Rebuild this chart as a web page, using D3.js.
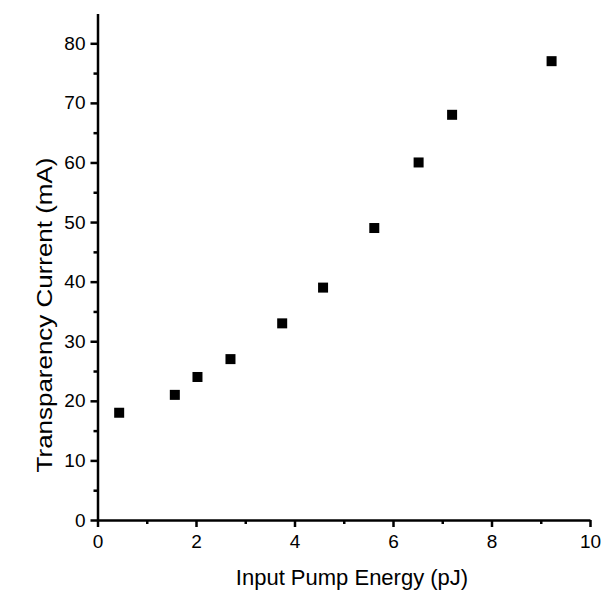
<!DOCTYPE html>
<html><head><meta charset="utf-8">
<script src="https://cdn.jsdelivr.net/npm/d3@7"></script>
<style>
html,body{margin:0;padding:0;background:#fff;}
svg{display:block;}
text{font-family:"Liberation Sans",Arial,Helvetica,sans-serif;fill:#000;}
</style></head>
<body>
<svg id="chart" width="612" height="593"></svg>
<script>
const pumpEnergy = [0.44, 1.57, 2.03, 2.70, 3.75, 4.58, 5.62, 6.52, 7.20, 9.22];
const transparencyCurrent = [18, 21, 24, 27, 33, 39, 49, 60, 68, 77];
const xTicks = [0, 2, 4, 6, 8, 10];
const xMinorTicks = [1, 3, 5, 7, 9];
const yTicks = [0, 10, 20, 30, 40, 50, 60, 70, 80];
const yMinorTicks = [5, 15, 25, 35, 45, 55, 65, 75];
const xTitle = "Input Pump Energy (pJ)";
const yTitle = "Transparency Current (mA)";

const svg = d3.select("#chart");
const x = d3.scaleLinear().domain([0, 10]).range([97.5, 590]);
const y = d3.scaleLinear().domain([0, 85]).range([520, 13.5]);

// minor ticks
svg.append("g").attr("transform", "translate(0,520)")
  .call(d3.axisBottom(x).tickValues(xMinorTicks).tickSize(4).tickFormat(""))
  .call(g => g.select(".domain").remove());
svg.append("g").attr("transform", "translate(97.5,0)")
  .call(d3.axisLeft(y).tickValues(yMinorTicks).tickSize(4).tickFormat(""))
  .call(g => g.select(".domain").remove());

svg.append("g").attr("transform", "translate(0,520)")
  .call(d3.axisBottom(x).tickValues(xTicks).tickSize(7).tickSizeOuter(0).tickPadding(8).tickFormat(d3.format("d")));
svg.append("g").attr("transform", "translate(97.5,0)")
  .call(d3.axisLeft(y).tickValues(yTicks).tickSize(7).tickSizeOuter(0).tickPadding(5).tickFormat(d3.format("d")));

svg.selectAll(".domain").attr("stroke", "#000").attr("stroke-width", 2.5);
svg.selectAll(".tick line").attr("stroke", "#000").attr("stroke-width", 2.5);
svg.selectAll(".tick text").attr("font-size", 19).attr("font-family", "Liberation Sans, Arial, sans-serif").attr("fill", "#000");

svg.append("text").attr("x", 352).attr("y", 585)
  .attr("text-anchor", "middle").attr("font-size", 22).text(xTitle);
svg.append("text").attr("transform", `translate(52,315) scale(1,1.18) rotate(-90)`)
  .attr("text-anchor", "middle").attr("font-size", 22).text(yTitle);

const s = 10;
svg.append("g").selectAll("rect").data(pumpEnergy.map((d, i) => [d, transparencyCurrent[i]]))
  .join("rect")
  .attr("x", d => x(d[0]) - s / 2).attr("y", d => y(d[1]) - s / 2)
  .attr("width", s).attr("height", s).attr("fill", "#000");
</script>
</body></html>
